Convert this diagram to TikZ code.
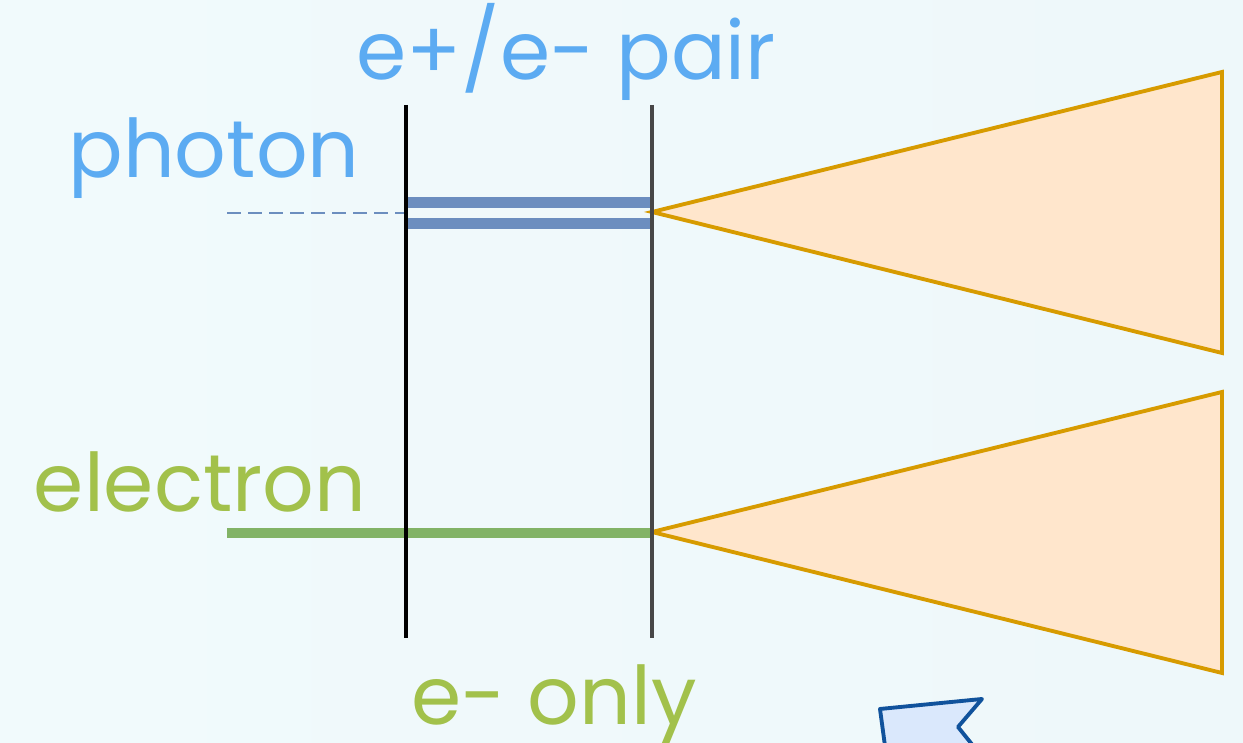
\documentclass[tikz,border=0pt]{standalone}
\usepackage{fontspec}
\setmainfont{Poppins}
\definecolor{bgcyan}{HTML}{F1FAFC}
\definecolor{bgcyanb}{HTML}{EEF8FA}
\definecolor{photonblue}{HTML}{5CABF2}
\definecolor{electrongreen}{HTML}{A2C14B}
\definecolor{pairstroke}{HTML}{6C8EBF}
\definecolor{elecstroke}{HTML}{82B366}
\definecolor{conefill}{HTML}{FFE6CC}
\definecolor{conestroke}{HTML}{D79B00}
\definecolor{flagfill}{HTML}{DAE8FC}
\definecolor{flagstroke}{HTML}{10529C}
\tikzset{
    label text/.style={font=\fontsize{23}{28}\selectfont, anchor=base, inner sep=0pt},
    plate/.style={line width=1.15pt},
    cone/.style={fill=conefill, draw=conestroke, line width=1.1pt, line join=miter},
}
\begin{document}
\begin{tikzpicture}[x=1cm,y=1cm]
    % background
    \clip (0,0) rectangle (12.43,7.43);
    \shade[left color=bgcyan, right color=bgcyanb] (0,0) rectangle (12.43,7.43);

    % points of the set-up
    \coordinate (plateAtop) at (4.06,6.38);
    \coordinate (plateAbot) at (4.06,1.05);
    \coordinate (plateBtop) at (6.52,6.38);
    \coordinate (plateBbot) at (6.52,1.05);
    \coordinate (photonIn) at (2.27,5.30);
    \coordinate (photonHit) at (4.06,5.30);
    \coordinate (electronIn) at (2.27,2.10);
    \coordinate (electronOut) at (6.52,2.10);
    \coordinate (apexUp) at (6.52,5.31);
    \coordinate (apexLow) at (6.52,2.11);

    % detector cones
    \draw[cone] (apexUp) -- (12.22,6.71) -- (12.22,3.90) -- cycle;
    \draw[cone] (apexLow) -- (12.22,3.51) -- (12.22,0.70) -- cycle;

    % incoming photon and the pair it makes
    \draw[pairstroke, line width=0.4pt, dash pattern=on 0.14cm off 0.07cm] (photonIn) -- (photonHit);
    \draw[pairstroke, line width=2.9pt] ([yshift=0.105cm]photonHit) -- ([yshift=0.105cm]plateBtop |- photonHit);
    \draw[pairstroke, line width=2.9pt] ([yshift=-0.105cm]photonHit) -- ([yshift=-0.105cm]plateBtop |- photonHit);

    % electron track
    \draw[elecstroke, line width=2.8pt] (electronIn) -- (electronOut);

    % converter plates
    \draw[plate, black] (plateAtop) -- (plateAbot);
    \draw[plate, black!72] (plateBtop) -- (plateBbot);

    % labels
    \node[label text, photonblue] (pairLabel) at (5.66,6.63) {e+/e- pair};
    \node[label text, photonblue] (photonLabel) at (2.14,5.65) {photon};
    \node[label text, electrongreen] (electronLabel) at (2.00,2.31) {electron};
    \node[label text, electrongreen] (onlyLabel) at (5.54,0.18) {e- only};

    % arrow shape cut by the lower edge
    \draw[fill=flagfill, draw=flagstroke, line width=1.1pt, line join=round]
        (8.80,0.34) -- (9.82,0.44) -- (9.58,0.16) -- (9.95,-0.30) -- (8.90,-0.40) -- cycle;
\end{tikzpicture}
\end{document}
